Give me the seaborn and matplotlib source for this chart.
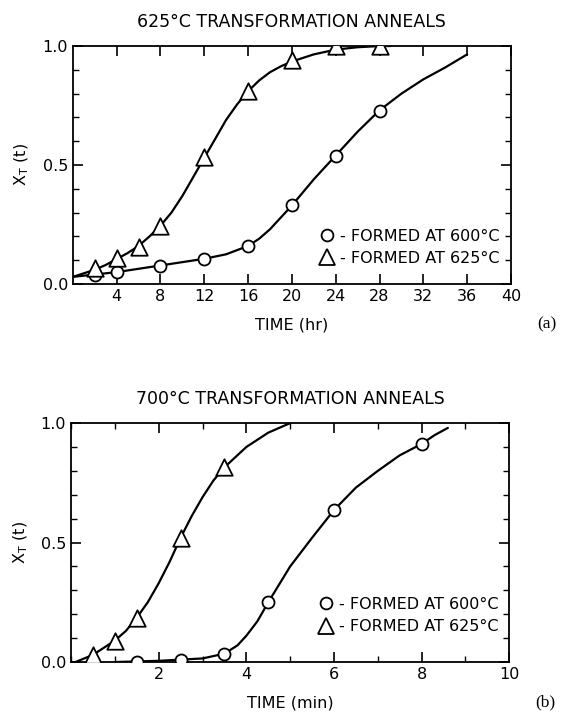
import matplotlib
matplotlib.use("Agg")
import matplotlib.pyplot as plt
import seaborn as sns
import pandas as pd
from matplotlib.ticker import MultipleLocator, FixedLocator
from matplotlib.lines import Line2D

sns.set_theme(style="ticks")
plt.rcParams['font.family'] = ['DejaVu Sans']
plt.rcParams['text.color'] = 'black'
plt.rcParams['axes.labelcolor'] = 'black'

# ---- Panel (a): 625C anneals, time in hr ----
a_circ_x = [2, 4, 8, 12, 16, 20, 24, 28]
a_circ_y = [0.04, 0.05, 0.077, 0.106, 0.16, 0.33, 0.54, 0.726]
a_tri_x = [2, 4, 6, 8, 12, 16, 20, 24, 28]
a_tri_y = [0.066, 0.11, 0.157, 0.245, 0.535, 0.81, 0.94, 1.0, 1.0]
# smooth hand-drawn curves
a_curve_circ_x = [0, 2, 4, 6, 8, 10, 12, 14, 16, 17, 18, 19, 20, 22, 24, 26, 28, 30, 32, 34, 36]
a_curve_circ_y = [0.03, 0.04, 0.05, 0.064, 0.078, 0.092, 0.106, 0.125, 0.16, 0.19, 0.23, 0.28, 0.33, 0.44, 0.54, 0.64, 0.73, 0.80, 0.86, 0.91, 0.965]
a_curve_tri_x = [0, 1, 2, 3, 4, 5, 6, 7, 8, 9, 10, 11, 12, 13, 14, 15, 16, 17, 18, 19, 20, 22, 24, 26, 28, 29]
a_curve_tri_y = [0.03, 0.045, 0.06, 0.08, 0.105, 0.13, 0.16, 0.2, 0.245, 0.30, 0.37, 0.45, 0.53, 0.61, 0.69, 0.755, 0.81, 0.855, 0.89, 0.915, 0.935, 0.965, 0.985, 0.995, 1.0, 1.0]

# ---- Panel (b): 700C anneals, time in min ----
b_circ_x = [1.5, 2.5, 3.5, 4.5, 6.0, 8.0]
b_circ_y = [0.0, 0.01, 0.035, 0.25, 0.636, 0.913]
b_tri_x = [0.5, 1.0, 1.5, 2.5, 3.5]
b_tri_y = [0.03, 0.09, 0.186, 0.52, 0.815]
b_curve_circ_x = [1.0, 2.0, 3.0, 3.5, 3.8, 4.0, 4.25, 4.5, 5.0, 5.5, 6.0, 6.5, 7.0, 7.5, 8.0, 8.3, 8.6]
b_curve_circ_y = [0.0, 0.005, 0.015, 0.035, 0.07, 0.11, 0.17, 0.25, 0.40, 0.52, 0.636, 0.73, 0.80, 0.865, 0.913, 0.95, 0.98]
b_curve_tri_x = [0.1, 0.5, 1.0, 1.25, 1.5, 1.75, 2.0, 2.25, 2.5, 2.75, 3.0, 3.25, 3.5, 4.0, 4.5, 5.0]
b_curve_tri_y = [0.0, 0.03, 0.09, 0.13, 0.186, 0.25, 0.33, 0.42, 0.52, 0.61, 0.69, 0.76, 0.815, 0.9, 0.96, 1.0]

titles = ["625°C TRANSFORMATION ANNEALS", "700°C TRANSFORMATION ANNEALS"]
xlabels = ["TIME (hr)", "TIME (min)"]
panel_tags = ["(a)", "(b)"]
legend_labels = ["- FORMED AT 600°C", "- FORMED AT 625°C"]
legend_y = [0.03, 0.07]

fig = plt.figure(figsize=(5.78, 7.24), dpi=100)
ax1 = fig.add_axes([0.126, 0.6077, 0.758, 0.3287])
ax2 = fig.add_axes([0.123, 0.0856, 0.758, 0.330])

panels = [
    (ax1, a_circ_x, a_circ_y, a_tri_x, a_tri_y, a_curve_circ_x, a_curve_circ_y, a_curve_tri_x, a_curve_tri_y),
    (ax2, b_circ_x, b_circ_y, b_tri_x, b_tri_y, b_curve_circ_x, b_curve_circ_y, b_curve_tri_x, b_curve_tri_y),
]

for i, (ax, cx, cy, tx, ty, ccx, ccy, ctx, cty) in enumerate(panels):
    sns.lineplot(x=ccx, y=ccy, ax=ax, color='black', lw=1.6, sort=False, estimator=None)
    sns.lineplot(x=ctx, y=cty, ax=ax, color='black', lw=1.6, sort=False, estimator=None)
    sns.scatterplot(x=cx, y=cy, ax=ax, marker='o', s=75, facecolor='white',
                    edgecolor='black', linewidth=1.3, zorder=5)
    sns.scatterplot(x=tx, y=ty, ax=ax, marker='^', s=140, facecolor='white',
                    edgecolor='black', linewidth=1.3, zorder=5)
    ax.set_ylim(0, 1.0)
    ax.yaxis.set_major_locator(FixedLocator([0.0, 0.5, 1.0]))
    ax.yaxis.set_minor_locator(MultipleLocator(0.1))
    ax.set_yticklabels(["0.0", "0.5", "1.0"])
    ax.set_ylabel("X$_\\mathregular{T}$ (t)", fontsize=11.5, labelpad=8)
    ax.set_xlabel(xlabels[i], fontsize=11.5, labelpad=10)
    ax.set_title(titles[i], fontsize=12.5, pad=14)
    for sp in ax.spines.values():
        sp.set_linewidth(1.3)
        sp.set_color('black')
    ax.tick_params(which='both', direction='in', top=True, right=True,
                   labelsize=11.5, colors='black')
    ax.tick_params(which='major', length=7, width=1.2)
    ax.tick_params(which='minor', length=4, width=1.0)
    handles = [Line2D([], [], marker='o', ls='', mfc='white', mec='black', ms=8.5, mew=1.3),
               Line2D([], [], marker='^', ls='', mfc='white', mec='black', ms=11, mew=1.3)]
    ax.legend(handles, legend_labels, loc='lower right', bbox_to_anchor=(1.0, legend_y[i]),
              frameon=False, fontsize=11.5, handlelength=0.8, handletextpad=0.4,
              labelspacing=0.45, borderaxespad=0.3)
    ax.text(1.06, -0.17, panel_tags[i], transform=ax.transAxes, fontsize=12.5,
            family='Liberation Serif', ha='left', va='center')

ax1.set_xlim(0, 40)
ax1.xaxis.set_major_locator(FixedLocator(list(range(4, 41, 4))))
ax1.set_xticklabels([str(v) for v in range(4, 41, 4)])

ax2.set_xlim(0, 10)
ax2.xaxis.set_major_locator(FixedLocator([2, 4, 6, 8, 10]))
ax2.xaxis.set_minor_locator(MultipleLocator(1))
ax2.set_xticklabels(["2", "4", "6", "8", "10"])

fig.savefig("out.png", dpi=100, facecolor='white')
